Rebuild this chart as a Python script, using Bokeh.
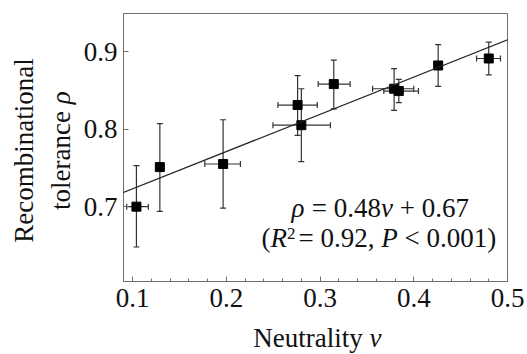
import math
import numpy as np
from bokeh.plotting import figure
from bokeh.layouts import row, column
from bokeh.models import (ColumnDataSource, Whisker, TeeHead, Label, Slope,
                          SingleIntervalTicker, Range1d)
from bokeh.embed import file_html
from bokeh.resources import INLINE

# ---- data ----
neutrality = [0.104, 0.129, 0.1965, 0.276, 0.280, 0.3146, 0.379, 0.384, 0.426, 0.480]
tolerance  = [0.700, 0.751, 0.755, 0.831, 0.805, 0.858, 0.852, 0.849, 0.882, 0.891]
rho_low    = [0.648, 0.694, 0.698, 0.792, 0.758, 0.826, 0.824, 0.834, 0.855, 0.870]
rho_high   = [0.753, 0.807, 0.812, 0.869, 0.852, 0.889, 0.878, 0.864, 0.909, 0.912]
nu_low     = [0.0936, 0.129, 0.177, 0.255, 0.2497, 0.298, 0.356, 0.368, 0.426, 0.467]
nu_high    = [0.1167, 0.129, 0.215, 0.297, 0.311, 0.332, 0.400, 0.405, 0.426, 0.4925]
fit_slope = 0.48
fit_intercept = 0.675
x_ticks = [0.1, 0.2, 0.3, 0.4, 0.5]
y_ticks = [0.7, 0.8, 0.9]

FONT = "Liberation Serif"
GRAY = "#6f6f6f"
INK = "#111111"
FS = "27px"
SHIFT = 9.5      # label anchor correction for 27px text
SHIFT_S = 6.0    # same for the 17px superscript

LEFT_W, TOTAL_W, TOTAL_H, MAIN_H = 80, 527, 354, 322
MAIN_W = TOTAL_W - LEFT_W
FRAME_LEFT = 122   # page x of the plotting frame's left edge

p = figure(width=MAIN_W, height=MAIN_H, output_backend="svg", toolbar_location=None,
           x_range=Range1d(0.0902, 0.5), y_range=Range1d(0.6035, 0.949),
           min_border_left=FRAME_LEFT - LEFT_W, min_border_right=20, min_border_top=13,
           min_border_bottom=MAIN_H - 281)
p.grid.visible = False
p.outline_line_color = GRAY
p.outline_line_width = 1
p.background_fill_color = "white"
p.border_fill_color = "white"

p.xaxis.ticker = SingleIntervalTicker(interval=0.1, num_minor_ticks=5)
p.yaxis.ticker = SingleIntervalTicker(interval=0.1, num_minor_ticks=0)
for ax in (p.xaxis[0], p.yaxis[0]):
    ax.axis_line_color = GRAY
    ax.major_tick_line_color = GRAY
    ax.minor_tick_line_color = GRAY
    ax.major_tick_in = 5
    ax.major_tick_out = 0
    ax.minor_tick_in = 3
    ax.minor_tick_out = 0
    ax.major_label_text_font = FONT
    ax.major_label_text_font_size = FS
    ax.major_label_text_color = INK
p.xaxis.major_label_standoff = 7
p.yaxis.major_label_standoff = 6
p.xaxis.major_label_overrides = {t: f"{t:.1f}" for t in x_ticks}
p.yaxis.major_label_overrides = {t: f"{t:.1f}" for t in y_ticks}

src = ColumnDataSource(dict(x=neutrality, y=tolerance, ylo=rho_low, yhi=rho_high,
                            xlo=nu_low, xhi=nu_high))
has_x = [i for i in range(len(neutrality)) if nu_high[i] > nu_low[i]]
srcx = ColumnDataSource(dict(y=[tolerance[i] for i in has_x],
                             xlo=[nu_low[i] for i in has_x],
                             xhi=[nu_high[i] for i in has_x]))

p.add_layout(Slope(gradient=fit_slope, y_intercept=fit_intercept,
                   line_color="#222222", line_width=1.3))

def tee():
    return TeeHead(size=6, line_color="#333333", line_width=1.2)

p.add_layout(Whisker(source=src, base="x", lower="ylo", upper="yhi", dimension="height",
                     line_color="#333333", line_width=1.2, level="underlay",
                     lower_head=tee(), upper_head=tee()))
p.add_layout(Whisker(source=srcx, base="y", lower="xlo", upper="xhi", dimension="width",
                     line_color="#333333", line_width=1.2, level="underlay",
                     lower_head=tee(), upper_head=tee()))

p.scatter("x", "y", source=src, marker="square", size=9, color="#000000")

def lab(fig, txt, x, y, size=FS, style="normal", align="left", angle=0.0):
    fig.add_layout(Label(x=x, y=y, x_units="screen", y_units="screen", text=txt,
                         text_font=FONT, text_font_size=size, text_font_style=style,
                         text_align=align, text_baseline="alphabetic",
                         text_color=INK, angle=angle))

# equation inside the frame (screen units from the frame's lower-left corner)
L1 = 64.3 + SHIFT
L2 = 34.3 + SHIFT
lab(p, "ρ", 168, L1, style="italic")
lab(p, "= 0.48", 188.3, L1)
lab(p, "v", 257.5, L1, style="italic")
lab(p, "+ 0.67", 276.2, L1)
lab(p, "(", 138, L2)
lab(p, "R", 147, L2, style="italic")
lab(p, "2", 163.5, 34.3 + 8 + SHIFT_S, size="17px")
lab(p, "= 0.92,", 175, L2)
lab(p, "P", 257.8, L2, style="italic")
lab(p, "< 0.001)", 281, L2)

def blank(w, h):
    f = figure(width=w, height=h, output_backend="svg", toolbar_location=None,
               x_range=Range1d(0, 1), y_range=Range1d(0, 1),
               x_axis_type=None, y_axis_type=None, min_border=0)
    f.grid.visible = False
    f.outline_line_color = None
    f.background_fill_color = "white"
    f.border_fill_color = "white"
    return f

# y title panel
left = blank(LEFT_W, TOTAL_H)
lab(left, "Recombinational", 33 - SHIFT, TOTAL_H - 150, align="center", angle=math.pi / 2)
lab(left, "tolerance", 70 - SHIFT, TOTAL_H - 110.5, align="right", angle=math.pi / 2)
lab(left, "ρ", 70 - SHIFT, TOTAL_H - 103.8, style="italic", align="left", angle=math.pi / 2)

# x title panel (its frame is aligned with the main frame by the column layout)
bottom = blank(MAIN_W, TOTAL_H - MAIN_H)
lab(bottom, "Neutrality", 251.7 - FRAME_LEFT, 7 + SHIFT)
lab(bottom, "v", 368 - FRAME_LEFT, 7 + SHIFT, style="italic")

layout = row(left, column(p, bottom, spacing=0), spacing=0)
open("out.html", "w").write(file_html(layout, INLINE))
